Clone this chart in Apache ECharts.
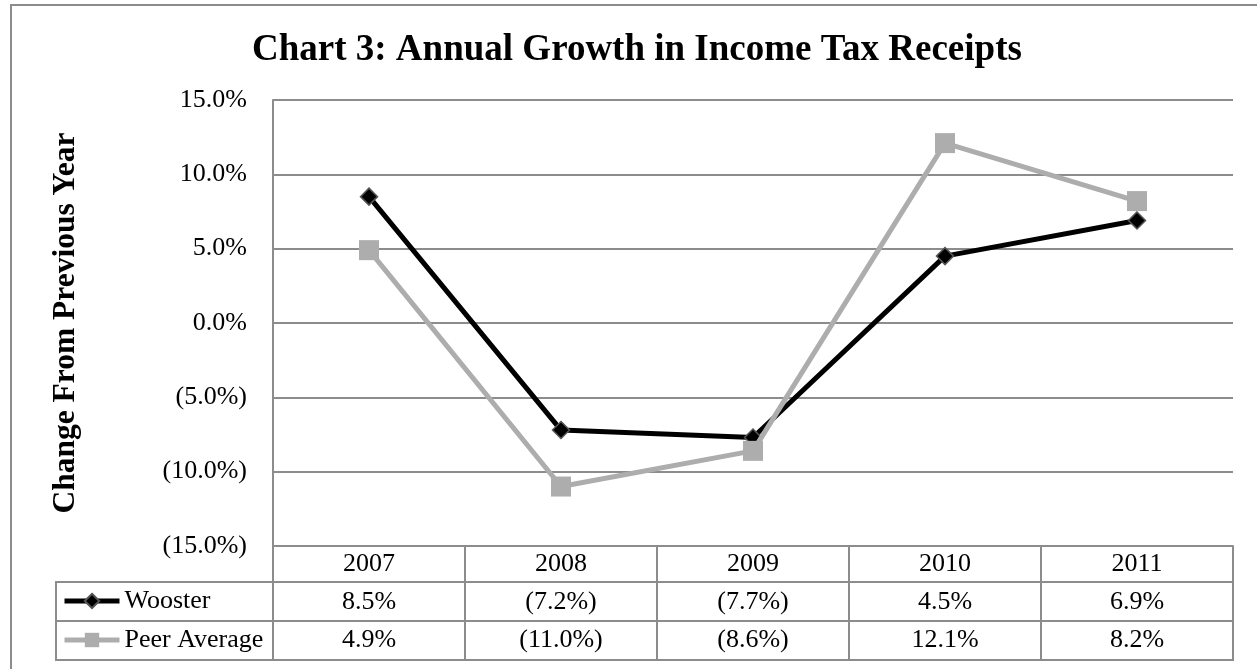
<!DOCTYPE html>
<html>
<head>
<meta charset="utf-8">
<script src="https://cdn.jsdelivr.net/npm/echarts@6/dist/echarts.min.js"></script>
<style>
html,body{margin:0;padding:0;background:#fff;}
#c{width:1257px;height:669px;}
</style>
</head>
<body>
<div id="c"></div>
<script>
const years = ['2007', '2008', '2009', '2010', '2011'];
const wooster = [8.5, -7.2, -7.7, 4.5, 6.9];
const peerAverage = [4.9, -11.0, -8.6, 12.1, 8.2];
const rowNames = ['Wooster', 'Peer Average'];
const yTicks = { min: -15, max: 15, interval: 5 };

const FONT = 'Liberation Serif';
const GRAY = '#8C8C8C';
const fmt = v => v < 0 ? '(' + Math.abs(v).toFixed(1) + '%)' : v.toFixed(1) + '%';

const chart = echarts.init(document.getElementById('c'), null, { renderer: 'canvas' });
chart.setOption({
  animation: false,
  backgroundColor: '#fff',
  textStyle: { fontFamily: FONT },
  title: {
    text: 'Chart 3: Annual Growth in Income Tax Receipts',
    left: 252, top: 32, padding: 0,
    textStyle: { fontFamily: FONT, fontSize: 37, fontWeight: 'bold', color: '#000' }
  },
  graphic: [{
    type: 'rect', z: -1, silent: true,
    shape: { x: 11, y: 5, width: 1300, height: 700 },
    style: { fill: 'none', stroke: GRAY, lineWidth: 2 }
  }],
  legend: {
    orient: 'vertical', left: 62, top: 588, padding: 0,
    itemWidth: 55, itemHeight: 18, itemGap: 13,
    data: rowNames,
    lineStyle: { width: 5 },
    textStyle: { fontFamily: FONT, fontSize: 26, color: '#000', lineHeight: 26 }
  },
  grid: [
    { left: 273, top: 100, width: 960, height: 446 },
    { left: 56, top: 582, width: 1177, height: 78, show: true, borderColor: GRAY, borderWidth: 2, backgroundColor: 'transparent' }
  ],
  xAxis: [
    {
      type: 'category', gridIndex: 0, data: years, boundaryGap: true,
      axisLine: { show: true, onZero: false, lineStyle: { color: GRAY, width: 2 } },
      axisTick: { show: true, length: 114, lineStyle: { color: GRAY, width: 2 } },
      axisLabel: {
        margin: -1, lineHeight: 38, fontFamily: FONT, fontSize: 26, color: '#000',
        formatter: (v, i) => v + '\n' + fmt(wooster[i]) + '\n' + fmt(peerAverage[i])
      }
    },
    { type: 'value', gridIndex: 1, show: false }
  ],
  yAxis: [
    {
      type: 'value', gridIndex: 0, min: yTicks.min, max: yTicks.max, interval: yTicks.interval,
      name: 'Change From Previous Year', nameLocation: 'middle', nameRotate: 90, nameGap: 191,
      nameTextStyle: { fontFamily: FONT, fontSize: 31.5, fontWeight: 'bold', color: '#000' },
      axisLine: { show: true, lineStyle: { color: GRAY, width: 2 } },
      axisTick: { show: false },
      splitLine: { show: true, lineStyle: { color: GRAY, width: 2 } },
      axisLabel: { margin: 26, fontFamily: FONT, fontSize: 26, color: '#000', formatter: v => fmt(v) }
    },
    {
      type: 'category', gridIndex: 1, data: rowNames, inverse: true, boundaryGap: true,
      axisLine: { show: false }, axisTick: { show: false }, axisLabel: { show: false },
      splitLine: { show: true, lineStyle: { color: GRAY, width: 2 } }
    }
  ],
  series: [
    {
      name: 'Wooster', type: 'line', xAxisIndex: 0, yAxisIndex: 0, data: wooster,
      symbol: 'diamond', symbolSize: 17,
      lineStyle: { color: '#000', width: 5 },
      itemStyle: { color: '#000', borderColor: '#555', borderWidth: 1.5 },
      z: 3
    },
    {
      name: 'Peer Average', type: 'line', xAxisIndex: 0, yAxisIndex: 0, data: peerAverage,
      symbol: 'rect', symbolSize: 20,
      lineStyle: { color: '#ADADAD', width: 5 },
      itemStyle: { color: '#ADADAD', borderWidth: 0 },
      z: 4
    }
  ]
});
</script>
</body>
</html>
